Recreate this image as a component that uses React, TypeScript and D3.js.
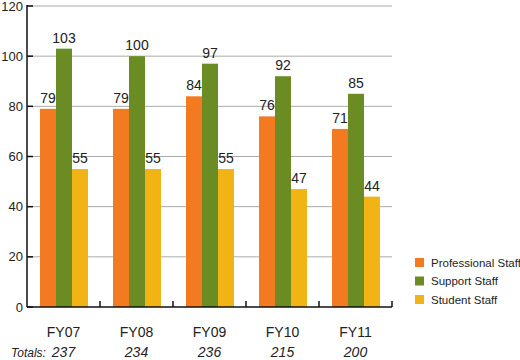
import * as d3 from 'd3';

const WIDTH = 520;
const HEIGHT = 360;
const MARGIN = { top: 6, right: 128, bottom: 53, left: 27 };

const years = ['FY07', 'FY08', 'FY09', 'FY10', 'FY11'];
const series = ['Professional Staff', 'Support Staff', 'Student Staff'];
const colors = ['#f47a22', '#6a8c22', '#f2b415'];
const professional = [79, 79, 84, 76, 71];
const support = [103, 100, 97, 92, 85];
const student = [55, 55, 55, 47, 44];
const totals = [237, 234, 236, 215, 200];
const yTicks = [0, 20, 40, 60, 80, 100, 120];

const values = [professional, support, student];

const App = () => {
    const boundsWidth = WIDTH - MARGIN.left - MARGIN.right;
    const boundsHeight = HEIGHT - MARGIN.top - MARGIN.bottom;

    const xScale = d3.scaleBand().domain(years).range([0, boundsWidth]);
    const xInner = d3
        .scaleBand()
        .domain(series)
        .range([13, 61]);
    const yScale = d3.scaleLinear().domain([0, 120]).range([boundsHeight, 0]);

    const font = 'Arial, "Liberation Sans", sans-serif';

    return (
        <svg
            width={WIDTH}
            height={HEIGHT}
            style={{ position: 'absolute', left: 0, top: 0, background: '#fff' }}
            fontFamily={font}
        >
            <g transform={`translate(${MARGIN.left},${MARGIN.top})`}>
                {/* gridlines + y ticks */}
                {yTicks.map((t) => (
                    <g key={t}>
                        {t > 0 && (
                            <line
                                x1={0}
                                x2={boundsWidth}
                                y1={yScale(t)}
                                y2={yScale(t)}
                                stroke="#aaaaaa"
                                strokeWidth={1}
                            />
                        )}
                        <line x1={0} x2={6} y1={yScale(t)} y2={yScale(t)} stroke="#111" strokeWidth={1.5} />
                        <text
                            x={-4}
                            y={yScale(t)}
                            dy="0.35em"
                            textAnchor="end"
                            fontSize={13}
                            fill="#222"
                        >
                            {t}
                        </text>
                    </g>
                ))}

                {/* bars */}
                {years.map((year, i) => (
                    <g key={year} transform={`translate(${xScale(year)},0)`}>
                        {series.map((s, j) => {
                            const v = values[j][i];
                            const x = xInner(s) || 0;
                            return (
                                <g key={s}>
                                    <rect
                                        x={x}
                                        y={yScale(v)}
                                        width={xInner.bandwidth()}
                                        height={boundsHeight - yScale(v)}
                                        fill={colors[j]}
                                    />
                                    <text
                                        x={x + xInner.bandwidth() / 2}
                                        y={yScale(v) - 6}
                                        textAnchor="middle"
                                        fontSize={14}
                                        fill="#222"
                                    >
                                        {v}
                                    </text>
                                </g>
                            );
                        })}
                        <text
                            x={xScale.bandwidth() / 2}
                            y={boundsHeight + 30}
                            textAnchor="middle"
                            fontSize={14}
                            fill="#222"
                        >
                            {year}
                        </text>
                        <text
                            x={xScale.bandwidth() / 2}
                            y={boundsHeight + 50}
                            textAnchor="middle"
                            fontSize={14}
                            fontStyle="italic"
                            fill="#222"
                        >
                            {totals[i]}
                        </text>
                        <line
                            x1={xScale.bandwidth()}
                            x2={xScale.bandwidth()}
                            y1={boundsHeight}
                            y2={boundsHeight - 6}
                            stroke="#111"
                            strokeWidth={1.5}
                        />
                    </g>
                ))}

                {/* axes */}
                <line x1={0} x2={0} y1={-1} y2={boundsHeight} stroke="#111" strokeWidth={1.5} />
                <line x1={0} x2={boundsWidth} y1={boundsHeight} y2={boundsHeight} stroke="#111" strokeWidth={1.5} />

                <text x={-16} y={boundsHeight + 50} fontSize={12} fontStyle="italic" fill="#222">
                    Totals:
                </text>
            </g>

            {/* legend */}
            <g transform="translate(415,258)">
                {series.map((s, j) => (
                    <g key={s} transform={`translate(0,${j * 18.5})`}>
                        <rect x={0} y={0} width={9} height={9} fill={colors[j]} />
                        <text x={16} y={4.5} dy="0.35em" fontSize={11.5} fill="#222">
                            {s}
                        </text>
                    </g>
                ))}
            </g>
        </svg>
    );
};

export default App;
